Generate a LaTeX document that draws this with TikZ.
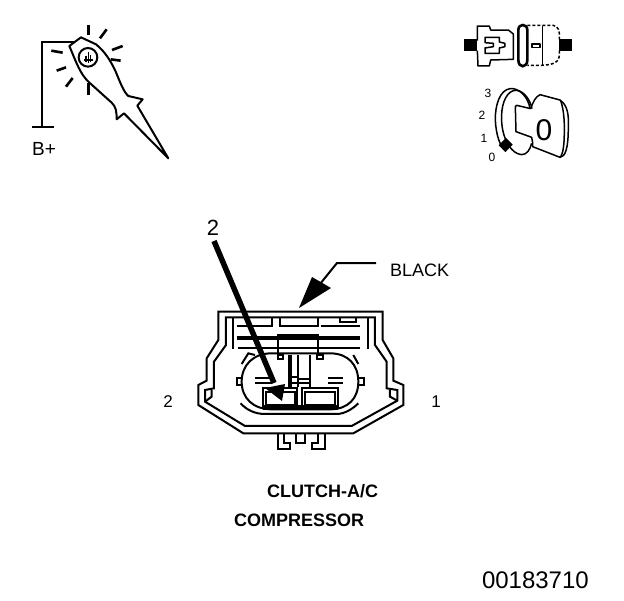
\documentclass[tikz,border=0pt]{standalone}
\usepackage{fontspec}
\setmainfont{Liberation Sans}
\tikzset{
  ln/.style={line width=2pt,line join=miter,black},
  thin ln/.style={line width=1.5pt,line join=round,black},
  heavy/.style={line width=4pt,black},
  lab/.style={inner sep=0pt,text=black},
}
\begin{document}
\begin{tikzpicture}[x=1pt,y=-1pt]
\useasboundingbox (0,0) rectangle (624,600);
\fill[white] (0,0) rectangle (624,600);
% ---- probe symbol
\begin{scope}[shift={(20,10)},x=0.3333pt,y=-0.3333pt]
\draw[ln] (165,96) -- (65,96) -- (65,350);
\draw[ln] (36,350) -- (101,350);
\draw[ln,line join=round] (148,108) -- (183,82) -- (228,103) .. controls (255,125) and (270,150) .. (285,180)
  .. controls (300,215) and (310,245) .. (325,258) -- (368,268) -- (352,287) -- (445,445) -- (312,310) -- (290,328)
  .. controls (290,305) and (288,290) .. (275,278) -- (205,215) .. controls (180,190) and (170,160) .. (148,108) -- cycle;
\draw[ln] (204,142) circle (28);
\draw[thin ln] (205,126) -- (205,160) (192,150) -- (220,150) (198,138) -- (198,155) (212,135) -- (212,155);
\foreach \a/\b/\c/\d in {206/44/206/76, 260/58/240/85, 308/108/276/120, 302/152/272/148, 94/122/128/128, 138/172/110/182, 158/204/138/230, 206/218/206/254}
  \draw[line width=2.6pt] (\a,\b) -- (\c,\d);
\end{scope}
\node[lab,anchor=west,font=\fontsize{19}{19}\selectfont] (bplus) at (32,149) {B+};
% ---- connector-view symbol
\begin{scope}[shift={(450,10)},x=0.3333pt,y=-0.3333pt]
\fill (42,88) rectangle (82,122);
\fill (326,88) rectangle (366,122);
\draw[thin ln] (82,92) -- (82,48) -- (118,48) -- (122,60) -- (175,60) -- (190,72) -- (190,148) -- (122,150) -- (118,168) -- (84,168) -- (82,122);
\draw[thin ln] (105,82) -- (148,82) -- (148,96) -- (165,100) -- (165,110) -- (148,114) -- (148,130) -- (105,130) -- (105,114) -- (130,110) -- (130,100) -- (105,98) -- cycle;
\draw[line width=2.6pt] (205,60) .. controls (205,40) and (232,40) .. (232,60) -- (232,150) .. controls (232,175) and (205,175) .. (205,150) -- cycle;
\draw[thin ln,densely dashed] (232,46) -- (310,46) .. controls (325,50) and (330,60) .. (328,88);
\draw[thin ln,densely dashed] (328,122) .. controls (330,150) and (325,165) .. (270,166) -- (232,166);
\draw[thin ln] (278,48) -- (278,166);
\draw[thin ln] (246,102) rectangle (270,112);
% key
\draw[thin ln] (240,296) .. controls (235,260) and (205,232) .. (180,236) .. controls (150,240) and (135,285) .. (136,330)
  .. controls (138,375) and (150,410) .. (168,424);
\draw[thin ln] (246,296) .. controls (240,265) and (215,235) .. (190,242) .. controls (165,250) and (152,290) .. (155,335) .. controls (158,390) and (185,432) .. (215,434) .. controls (230,434) and (240,420) .. (245,400);
\draw[thin ln] (242,296) -- (200,286) -- (196,290) -- (198,365) -- (245,382) -- (248,398) -- (248,410) -- (330,442) .. controls (345,440) and (355,420) .. (355,350) .. controls (358,300) and (345,280) .. (330,270) -- (270,254) .. controls (255,262) and (250,275) .. (242,296);
\draw[thin ln] (332,272) .. controls (342,300) and (345,340) .. (342,395) .. controls (340,425) and (335,438) .. (330,442);
\fill (168,384) -- (188,404) -- (166,426) -- (146,406) -- cycle;
\end{scope}
\node[lab,font=\fontsize{12}{12}\selectfont] (k3) at (488,93) {3};
\node[lab,font=\fontsize{12}{12}\selectfont] (k2) at (482,115) {2};
\node[lab,font=\fontsize{12}{12}\selectfont] (k1) at (484,138) {1};
\node[lab,font=\fontsize{12}{12}\selectfont] (k0) at (492,157) {0};
\node[lab,font=\fontsize{30}{30}\selectfont] (kz) at (544,130) {0};
% ---- connector body
\begin{scope}[shift={(190,290)},x=0.3333pt,y=-0.3333pt]
\draw[ln] (85,65) -- (578,65) -- (578,150) -- (610,205) -- (610,272) -- (640,285) -- (640,345) -- (490,430) -- (160,430) -- (25,345) -- (25,285) -- (50,272) -- (50,205) -- (85,150) -- cycle;
\draw[ln] (108,82) -- (555,82) -- (555,165) -- (590,215) -- (590,295) -- (622,300) -- (622,332) -- (485,408) -- (165,408) -- (45,335) -- (45,300) -- (72,295) -- (72,215) -- (108,165) -- cycle;
\draw[ln] (130,82) -- (130,178) (533,82) -- (533,178);
\draw[ln] (600,300) -- (600,320) -- (622,332);
\draw[ln] (65,300) -- (65,320) -- (45,335);
% ribs
\draw[ln] (140,108) -- (245,108) -- (245,85);
\draw[ln] (270,85) -- (270,108) -- (385,108) -- (385,85);
\draw[ln] (393,108) -- (510,108);
\draw[ln] (450,85) -- (450,97) -- (497,97) -- (497,85);
\draw[heavy] (140,145) -- (510,145);
\draw[ln] (145,175) -- (510,175);
\draw[ln] (265,195) -- (265,135) -- (385,135) -- (385,195);
\draw[ln] (265,195) rectangle (280,208);
\draw[ln] (380,195) rectangle (400,208);
% barrel
\draw[ln] (245,190) .. controls (190,190) and (155,225) .. (155,275) .. controls (155,325) and (190,358) .. (245,358) -- (420,358) .. controls (475,358) and (505,325) .. (505,275) .. controls (505,225) and (475,190) .. (420,190) -- cycle;
\draw[ln] (155,222) -- (175,190) -- (195,195);
\draw[ln] (490,195) -- (505,222);
\draw[ln] (155,265) -- (142,265) -- (142,285) -- (155,285);
\draw[ln] (508,265) -- (522,265) -- (522,285) -- (508,285);
\draw[ln] (195,265) -- (245,265) (195,280) -- (245,280);
\draw[ln] (415,265) -- (460,265) (415,280) -- (460,280);
% centre
\draw[heavy] (300,195) -- (300,290);
\draw[ln] (325,195) -- (325,290) (360,195) -- (360,290);
\draw[ln] (300,260) -- (325,260) (300,280) -- (360,280) (325,268) -- (360,268);
% contacts
\draw[ln] (218,295) rectangle (322,352);
\draw[ln] (228,305) rectangle (316,345);
\draw[ln] (335,295) rectangle (445,352);
\draw[ln] (345,305) rectangle (435,345);
\fill (218,346) rectangle (445,360);
\draw[ln] (152,340) .. controls (170,360) and (195,372) .. (225,372) -- (440,372) .. controls (465,372) and (490,355) .. (505,340);
% tabs
\draw[ln] (265,432) -- (265,478) -- (300,478) -- (300,458) -- (282,458) -- (282,432);
\draw[ln] (318,432) -- (318,460) -- (345,460) -- (345,432);
\draw[ln] (405,432) -- (405,478) -- (365,478) -- (365,458) -- (385,458) -- (385,432);
\end{scope}
% ---- pointers
\coordinate (p2top) at (214,241);
\coordinate (p2tip) at (282,401);
\node[lab,font=\fontsize{22}{22}\selectfont] (n2) at (213,228) {2};
\draw[line width=5.5pt] (p2top) -- (274,383);
\fill (p2tip) -- (265,388) -- (285,384) -- cycle;
\node[lab,anchor=west,font=\fontsize{18}{18}\selectfont] (black) at (390,270) {BLACK};
\coordinate (bk1) at (376,263);
\coordinate (bk2) at (337,263);
\coordinate (bk3) at (299,308);
\draw[line width=2pt] (bk1) -- (bk2) -- (320,284);
\fill (bk3) -- (312,277) -- (331,288) -- cycle;
% ---- labels
\node[lab,font=\fontsize{17}{17}\selectfont] (l2) at (168,402) {2};
\node[lab,font=\fontsize{17}{17}\selectfont] (l1) at (436,402) {1};
\node[lab,anchor=west,font=\bfseries\fontsize{18}{18}\selectfont] (t1) at (267,491) {CLUTCH-A/C};
\node[lab,anchor=west,font=\bfseries\fontsize{18}{18}\selectfont] (t2) at (234,520) {COMPRESSOR};
\node[lab,anchor=east,font=\fontsize{24}{24}\selectfont] (code) at (589,580) {00183710};
\end{tikzpicture}
\end{document}
